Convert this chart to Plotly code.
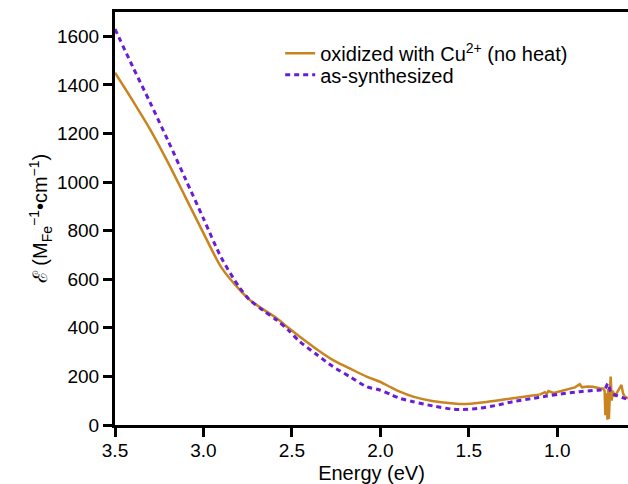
import plotly.graph_objects as go

# oxidized with Cu2+ (no heat) — smooth part
ox_E = [3.50, 3.40, 3.30, 3.20, 3.10, 3.00, 2.90, 2.80, 2.737, 2.66,
        2.586, 2.52, 2.455, 2.36, 2.267, 2.17, 2.078, 2.003, 1.94, 1.89, 1.815, 1.70,
        1.60, 1.532, 1.40, 1.25, 1.15, 1.10]
ox_V = [1450, 1335, 1215, 1080, 935, 790, 650, 560, 514, 475,
        439, 400, 363, 312, 267, 232, 199, 178, 155, 137, 117, 98,
        90, 86, 95, 110, 120, 125]
# oxidized — noisy part
oxn_E = [1.10, 1.07, 1.06, 1.05, 1.02, 0.98, 0.93, 0.90, 0.873, 0.86, 0.83, 0.80,
         0.76, 0.74, 0.732, 0.728, 0.722, 0.716, 0.712, 0.708, 0.703, 0.698, 0.692,
         0.686, 0.675, 0.665, 0.658, 0.645, 0.637, 0.628, 0.619, 0.60]
oxn_V = [125, 135, 128, 140, 132, 140, 150, 155, 168, 155, 158, 157,
         151, 150, 140, 40, 130, 22, 150, 25, 120, 199, 100,
         140, 117, 130, 137, 150, 165, 130, 117, 110]

# as-synthesized
as_E = [3.50, 3.40, 3.30, 3.20, 3.10, 3.00, 2.90, 2.80, 2.737, 2.66,
        2.586, 2.52, 2.455, 2.36, 2.267, 2.17, 2.078, 2.003, 1.94, 1.89, 1.815, 1.70,
        1.60, 1.55, 1.45, 1.35, 1.25, 1.15, 1.06, 0.98, 0.90, 0.873, 0.80, 0.76,
        0.73, 0.713, 0.70, 0.69, 0.66, 0.60]
as_V = [1630, 1475, 1325, 1170, 1010, 850, 690, 570, 514, 470,
        432, 390, 343, 290, 240, 198, 158, 144, 125, 110, 96, 78,
        66, 64, 68, 80, 96, 108, 119, 128, 135, 137, 142, 144,
        150, 171, 140, 130, 120, 105]

x_ticks = [3.5, 3.0, 2.5, 2.0, 1.5, 1.0]
y_ticks = [0, 200, 400, 600, 800, 1000, 1200, 1400, 1600]

ORANGE = "#C98420"
PURPLE = "#6A1BD6"
FONT = "Arial, Liberation Sans, sans-serif"

fig = go.Figure()
fig.add_trace(go.Scatter(x=ox_E, y=ox_V, mode="lines", line=dict(color=ORANGE, width=2.5, shape="spline", smoothing=0.8),
                         name="oxidized with Cu<sup>2+</sup> (no heat)", legend="legend"))
fig.add_trace(go.Scatter(x=oxn_E, y=oxn_V, mode="lines", line=dict(color=ORANGE, width=2.5),
                         showlegend=False))
fig.add_trace(go.Scatter(x=as_E, y=as_V, mode="lines",
                         line=dict(color=PURPLE, width=3, dash="5px,4px", shape="spline", smoothing=0.8),
                         name="as-synthesized", legend="legend2"))

leg_common = dict(xanchor="left", yanchor="middle", bgcolor="rgba(0,0,0,0)",
                  font=dict(size=20, family=FONT, color="black"), itemwidth=30)

fig.update_layout(
    width=628, height=484,
    margin=dict(l=115, r=0, t=12, b=59),
    paper_bgcolor="white", plot_bgcolor="white",
    font=dict(family=FONT, size=20, color="black"),
    showlegend=True,
    legend=dict(x=0.322, y=0.9, **leg_common),
    legend2=dict(x=0.322, y=0.848, **leg_common),
    xaxis=dict(range=[3.5, 0.6], tickvals=x_ticks, ticktext=[f"{v:.1f}" for v in x_ticks],
               showline=True, linecolor="black", linewidth=3, mirror=True,
               ticks="outside", ticklen=9, tickwidth=3, tickcolor="black",
               tickfont=dict(size=19), ticklabelstandoff=-3, automargin=False,
               showgrid=False, zeroline=False,
               title=dict(text="Energy (eV)", standoff=13, font=dict(size=20))),
    yaxis=dict(range=[0, 1700], tickvals=y_ticks,
               showline=True, linecolor="black", linewidth=3,
               ticks="outside", ticklen=9, tickwidth=3, tickcolor="black",
               tickfont=dict(size=19), automargin=False,
               showgrid=False, zeroline=False,
               title=dict(text="ℰ (M<sub>Fe</sub><sup>−1</sup>•cm<sup>−1</sup>)", standoff=4, font=dict(size=20))),
)

fig.write_html("out.html", config={"displayModeBar": False},
               post_script="document.body.style.margin='0';document.body.style.overflow='hidden';")
